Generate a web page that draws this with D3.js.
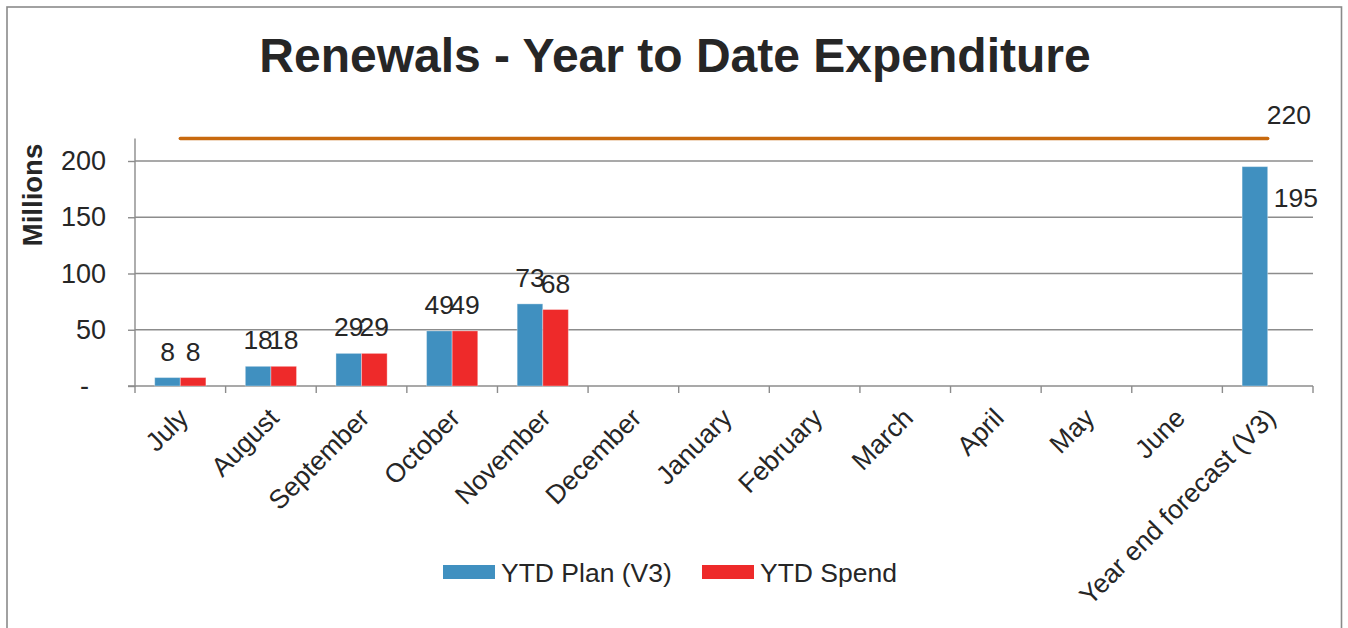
<!DOCTYPE html>
<html>
<head>
<meta charset="utf-8">
<script src="https://cdn.jsdelivr.net/npm/d3@7"></script>
<style>
  html, body { margin: 0; padding: 0; background: #fff; }
  svg { display: block; font-family: "Liberation Sans", Arial, sans-serif; }
</style>
</head>
<body>
<svg id="chart" width="1348" height="628"></svg>
<script>
const categories = ["July","August","September","October","November","December","January","February","March","April","May","June","Year end forecast (V3)"];
const seriesNames = ["YTD Plan (V3)", "YTD Spend"];
const planValues  = [7.5, 17.5, 29, 49, 73, null, null, null, null, null, null, null, 195];
const spendValues = [7.5, 17.5, 29, 49, 68, null, null, null, null, null, null, null, null];
const budgetValues = [220,220,220,220,220,220,220,220,220,220,220,220,220];
const yTicks = [0, 50, 100, 150, 200];
const title = "Renewals - Year to Date Expenditure";
const yTitle = "Millions";

const colors = { plan: "#4090c0", spend: "#ee2a2a", budget: "#c8690e", grid: "#8c8c8c", text: "#262626" };
const FS = 26.5;

const svg = d3.select("#chart");
const plot = { left: 135, right: 1313, top: 138.5, bottom: 386 };

// border
svg.append("rect").attr("x", 7).attr("y", 7).attr("width", 1334.5).attr("height", 640)
  .attr("fill", "none").attr("stroke", "#8a8a8a").attr("stroke-width", 1.6);

// title
svg.append("text").attr("x", 675).attr("y", 72).attr("text-anchor", "middle")
  .attr("font-size", 48).attr("font-weight", "bold").attr("fill", colors.text).text(title);

const x0 = d3.scaleBand().domain(categories).range([plot.left, plot.right]).padding(0);
const x1 = d3.scaleBand().domain(seriesNames).range([0, x0.bandwidth()]).paddingInner(0).paddingOuter(0.77);
const y = d3.scaleLinear().domain([0, 220]).range([plot.bottom, plot.top]);

// gridlines
svg.append("g").selectAll("line").data(yTicks.filter(d => d > 0)).join("line")
  .attr("x1", plot.left).attr("x2", plot.right)
  .attr("y1", d => y(d)).attr("y2", d => y(d))
  .attr("stroke", colors.grid).attr("stroke-width", 1.4);

// y axis
const yAxis = d3.axisLeft(y).tickValues(yTicks).tickSize(7).tickPadding(22)
  .tickFormat(d => d === 0 ? "-" : d3.format("d")(d));
const gy = svg.append("g").attr("transform", `translate(${plot.left},0)`).call(yAxis);
gy.select(".domain").attr("stroke", colors.grid).attr("stroke-width", 1.4).attr("d", `M-7,${plot.bottom}H0V${plot.top}`);
gy.selectAll(".tick line").attr("stroke", colors.grid).attr("stroke-width", 1.4);
gy.selectAll(".tick text").attr("font-size", FS + 0.5).attr("fill", colors.text).attr("font-family", "Liberation Sans, Arial, sans-serif");
gy.selectAll(".tick text").filter(d => d === 0).attr("dx", -17);

// x axis
const xAxis = d3.axisBottom(x0).tickSize(0).tickFormat("");
const gx = svg.append("g").attr("transform", `translate(0,${plot.bottom})`).call(xAxis);
gx.select(".domain").attr("stroke", colors.grid).attr("stroke-width", 1.4).attr("d", `M${plot.left},0H${plot.right}`);
// tick marks at band boundaries
const bounds = categories.map(c => x0(c)).concat([plot.right]);
svg.append("g").selectAll("line").data(bounds).join("line")
  .attr("x1", d => d).attr("x2", d => d).attr("y1", plot.bottom).attr("y2", plot.bottom + 7)
  .attr("stroke", colors.grid).attr("stroke-width", 1.4);

// x labels
svg.append("g").selectAll("text").data(categories).join("text")
  .attr("transform", d => `translate(${x0(d) + x0.bandwidth() / 2 + 3},${plot.bottom + 27}) rotate(-45)`)
  .attr("text-anchor", "end").attr("dy", "0.35em")
  .attr("font-size", FS).attr("fill", colors.text).text(d => d);

// bars
const rows = categories.map((c, i) => ({ cat: c, vals: [
  { s: seriesNames[0], v: planValues[i], color: colors.plan },
  { s: seriesNames[1], v: spendValues[i], color: colors.spend }
]}));
const groups = svg.append("g").selectAll("g").data(rows).join("g")
  .attr("transform", d => `translate(${x0(d.cat)},0)`);
groups.selectAll("rect").data(d => d.vals.filter(e => e.v != null)).join("rect")
  .attr("x", d => x1(d.s)).attr("width", x1.bandwidth())
  .attr("y", d => y(d.v)).attr("height", d => plot.bottom - y(d.v))
  .attr("fill", d => d.color).attr("stroke", "#ffffff").attr("stroke-opacity", 0.35).attr("stroke-width", 1);

// data labels (months)
rows.forEach((r, i) => {
  if (i === categories.length - 1) return;
  r.vals.forEach(e => {
    if (e.v == null) return;
    svg.append("text")
      .attr("x", x0(r.cat) + x1(e.s) + x1.bandwidth() / 2)
      .attr("y", y(e.v) - 17)
      .attr("text-anchor", "middle").attr("font-size", FS).attr("fill", colors.text)
      .text(Math.round(e.v));
  });
});
// forecast label, right of bar
{
  const last = categories.length - 1;
  const c = categories[last];
  svg.append("text")
    .attr("x", x0(c) + x1(seriesNames[0]) + x1.bandwidth() + 6)
    .attr("y", y(planValues[last]) + 40)
    .attr("font-size", FS).attr("fill", colors.text).text(Math.round(planValues[last]));
}

// budget line
const line = d3.line().x((d, i) => x0(categories[i]) + x0.bandwidth() / 2).y(d => y(d));
svg.append("path").datum(budgetValues).attr("d", line)
  .attr("fill", "none").attr("stroke", colors.budget).attr("stroke-width", 3.5).attr("stroke-linecap", "round");
{
  const last = categories.length - 1;
  svg.append("text")
    .attr("x", x0(categories[last]) + x0.bandwidth() / 2 - 1)
    .attr("y", y(budgetValues[last]) - 15)
    .attr("font-size", FS).attr("fill", colors.text).text(budgetValues[last]);
}

// legend
const legendItems = [
  { name: seriesNames[0], color: colors.plan, x: 443 },
  { name: seriesNames[1], color: colors.spend, x: 702 }
];
const lg = svg.append("g").selectAll("g").data(legendItems).join("g")
  .attr("transform", d => `translate(${d.x},565)`);
lg.append("rect").attr("width", 52).attr("height", 14).attr("fill", d => d.color);
lg.append("text").attr("x", 58).attr("y", 16.5).attr("font-size", FS).attr("fill", colors.text).text(d => d.name);

// y title
svg.append("text").attr("transform", "translate(42,195) rotate(-90)")
  .attr("text-anchor", "middle").attr("font-size", FS + 1).attr("font-weight", "bold")
  .attr("fill", colors.text).text(yTitle);
</script>
</body>
</html>
